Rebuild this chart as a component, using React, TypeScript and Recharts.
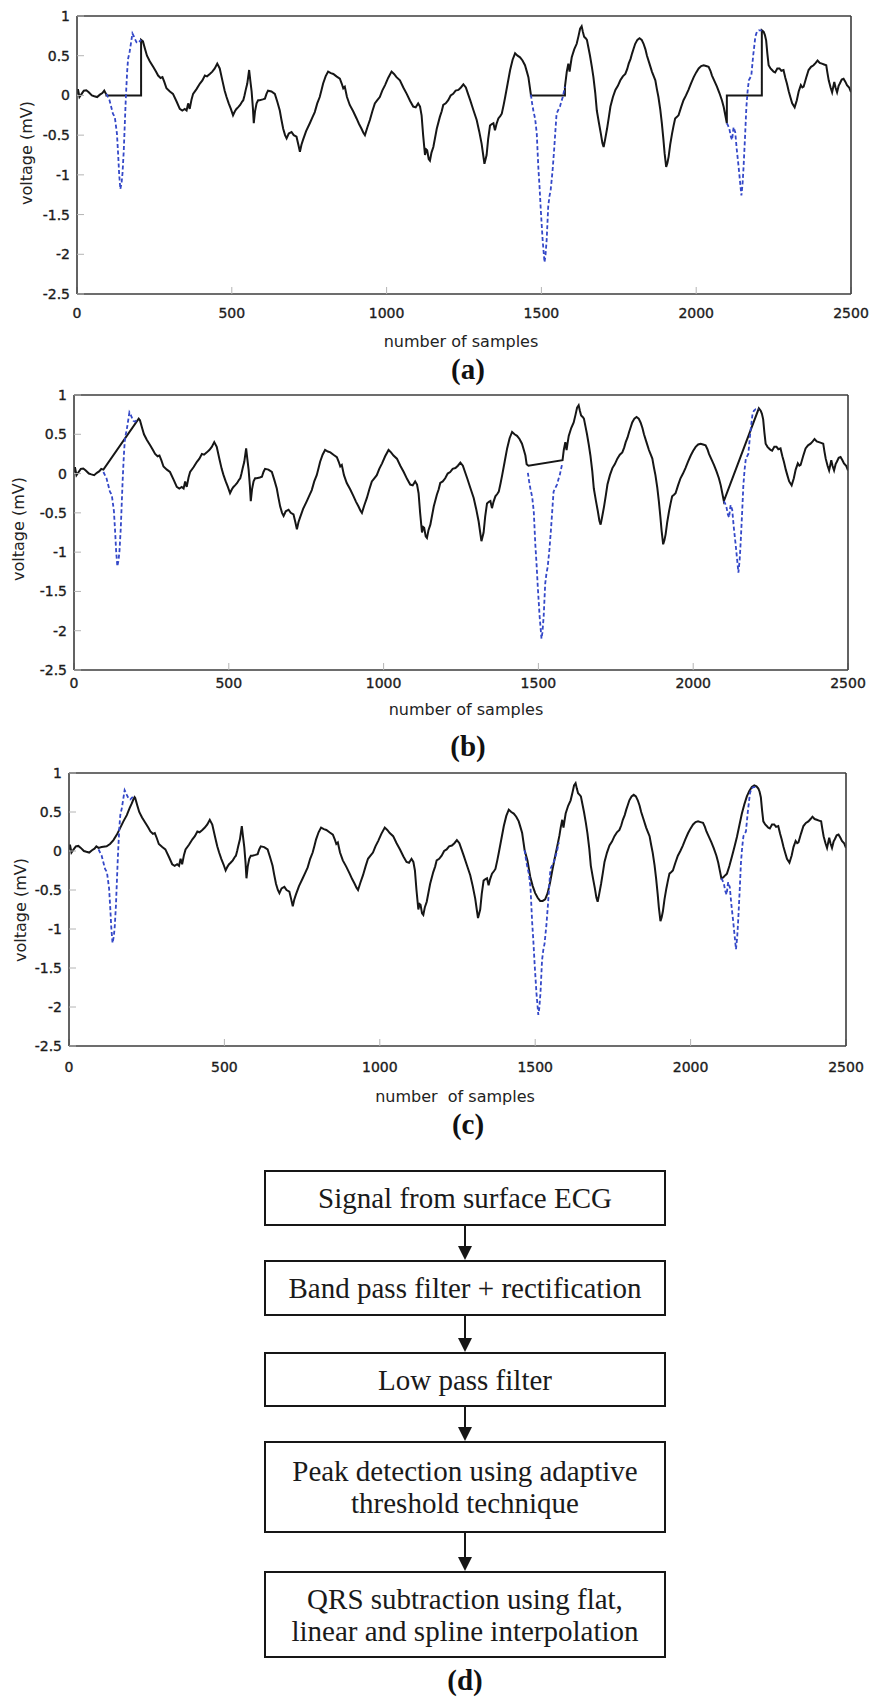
import { LineChart, Line, XAxis, YAxis } from 'recharts';

type Pt = [number, number];

// ─── axes ───
const X_TICKS = [0, 500, 1000, 1500, 2000, 2500];
const Y_TICKS = [-2.5, -2, -1.5, -1, -0.5, 0, 0.5, 1];

// ─── ECG trace outside the three QRS windows (sample, mV) ───
const ECG_START: Pt[] = [
  [0, 0.02], [3, 0.08], [8, -0.02], [15, 0.02], [22, 0.06], [30, 0.065], [38, 0.04],
  [48, 0.0], [56, -0.01], [65, -0.02], [74, 0.01], [82, 0.03], [88, 0.06],
];

const ECG_MID: Pt[] = [
  [213, 0.68], [220, 0.58], [226, 0.5], [235, 0.43], [246, 0.36], [255, 0.3], [262, 0.25],
  [270, 0.22], [276, 0.23], [282, 0.17], [289, 0.09], [300, 0.05], [310, 0.02], [322, -0.08],
  [332, -0.17], [340, -0.19], [348, -0.17], [354, -0.19], [359, -0.1], [364, -0.17], [370, -0.05],
  [375, 0.02], [386, 0.08], [397, 0.15], [405, 0.19], [413, 0.25], [420, 0.24], [429, 0.27],
  [437, 0.3], [445, 0.34], [453, 0.4], [461, 0.34], [470, 0.18], [477, 0.06], [483, -0.02],
  [490, -0.1], [497, -0.17], [504, -0.25], [510, -0.2], [515, -0.17], [520, -0.15], [527, -0.12],
  [533, -0.08], [537, -0.06], [541, 0.0], [545, 0.07], [550, 0.15], [556, 0.32], [560, 0.18],
  [564, 0.05], [568, -0.15], [571, -0.35], [575, -0.2], [580, -0.1], [585, -0.06], [590, -0.06],
  [600, -0.05], [607, -0.04], [612, 0.02], [617, 0.06], [628, 0.05], [639, 0.02], [647, -0.08],
  [655, -0.19], [660, -0.3], [666, -0.42], [672, -0.5], [677, -0.54], [684, -0.48], [693, -0.46],
  [700, -0.5], [709, -0.52], [715, -0.62], [720, -0.71], [725, -0.62], [730, -0.56], [740, -0.45],
  [752, -0.35], [760, -0.28], [768, -0.21], [776, -0.1], [784, -0.02], [790, 0.07], [795, 0.15],
  [803, 0.24], [811, 0.3], [820, 0.28], [828, 0.27], [838, 0.24], [849, 0.21], [855, 0.15],
  [860, 0.09], [865, 0.11], [872, -0.02], [881, -0.12], [892, -0.2], [903, -0.29], [911, -0.36],
  [919, -0.42], [925, -0.47], [930, -0.5], [938, -0.4], [946, -0.31], [954, -0.2], [962, -0.1],
  [970, -0.06], [978, -0.02], [986, 0.06], [995, 0.13], [1005, 0.22], [1016, 0.3], [1024, 0.27],
  [1032, 0.23], [1043, 0.19], [1054, 0.1], [1065, 0.02], [1076, -0.07], [1086, -0.14], [1094, -0.15],
  [1102, -0.1], [1108, -0.14], [1113, -0.25], [1118, -0.5], [1124, -0.75], [1128, -0.68], [1131, -0.69],
  [1136, -0.8], [1140, -0.82], [1145, -0.72], [1151, -0.65], [1162, -0.42], [1172, -0.27], [1178, -0.2],
  [1183, -0.12], [1191, -0.1], [1199, -0.06], [1207, 0.0], [1215, 0.02], [1223, 0.06], [1232, 0.07],
  [1240, 0.1], [1248, 0.14], [1256, 0.1], [1263, 0.02], [1270, -0.06], [1280, -0.18], [1291, -0.31],
  [1299, -0.45], [1307, -0.61], [1312, -0.75], [1316, -0.86], [1323, -0.75], [1328, -0.55], [1334, -0.38],
  [1340, -0.36], [1345, -0.35], [1350, -0.44], [1355, -0.36], [1361, -0.29], [1367, -0.26], [1372, -0.23],
  [1378, -0.12], [1383, -0.02], [1391, 0.15], [1399, 0.32], [1407, 0.45], [1415, 0.53], [1423, 0.5],
  [1431, 0.48], [1439, 0.44], [1447, 0.38], [1453, 0.3], [1458, 0.23], [1462, 0.12],
];

const ECG_LATE: Pt[] = [
  [1582, 0.3], [1587, 0.4], [1591, 0.3], [1594, 0.38], [1598, 0.48], [1606, 0.58], [1614, 0.65],
  [1620, 0.75], [1625, 0.84], [1630, 0.87], [1634, 0.8], [1638, 0.74], [1643, 0.72], [1647, 0.7],
  [1652, 0.6], [1657, 0.5], [1663, 0.36], [1668, 0.23], [1674, 0.03], [1679, -0.19], [1686, -0.35],
  [1692, -0.48], [1697, -0.6], [1701, -0.65], [1706, -0.55], [1712, -0.42], [1718, -0.27], [1723, -0.14],
  [1731, -0.02], [1739, 0.07], [1747, 0.12], [1755, 0.19], [1763, 0.24], [1771, 0.27], [1777, 0.33],
  [1782, 0.4], [1788, 0.46], [1793, 0.53], [1798, 0.59], [1803, 0.65], [1810, 0.7], [1817, 0.72],
  [1824, 0.7], [1830, 0.65], [1836, 0.58], [1841, 0.5], [1849, 0.4], [1857, 0.3], [1863, 0.24],
  [1868, 0.19], [1873, 0.08], [1878, -0.02], [1884, -0.18], [1889, -0.35], [1894, -0.55], [1898, -0.73],
  [1903, -0.9], [1907, -0.85], [1911, -0.77], [1916, -0.62], [1922, -0.48], [1927, -0.38], [1932, -0.29],
  [1938, -0.27], [1943, -0.25], [1951, -0.15], [1959, -0.06], [1967, 0.0], [1975, 0.07], [1983, 0.15],
  [1992, 0.23], [2000, 0.29], [2008, 0.34], [2016, 0.37], [2024, 0.38], [2032, 0.37], [2040, 0.36],
  [2046, 0.31], [2051, 0.25], [2059, 0.18], [2067, 0.11], [2075, 0.03], [2083, -0.06], [2089, -0.15],
  [2094, -0.25],
];

const ECG_END: Pt[] = [
  [2218, 0.8], [2222, 0.76], [2226, 0.69], [2230, 0.52], [2234, 0.38], [2240, 0.34], [2245, 0.32],
  [2250, 0.3], [2255, 0.29], [2262, 0.34], [2269, 0.34], [2275, 0.31], [2282, 0.32], [2288, 0.22],
  [2293, 0.15], [2299, 0.05], [2304, -0.02], [2310, -0.1], [2318, -0.15], [2325, -0.06], [2331, 0.05],
  [2338, 0.13], [2343, 0.1], [2347, 0.11], [2355, 0.22], [2363, 0.32], [2371, 0.36], [2379, 0.38],
  [2386, 0.41], [2392, 0.44], [2399, 0.41], [2406, 0.4], [2413, 0.39], [2420, 0.38], [2424, 0.28],
  [2428, 0.19], [2434, 0.1], [2439, 0.04], [2446, 0.17], [2450, 0.1], [2455, 0.04], [2460, 0.12],
  [2464, 0.15], [2470, 0.2], [2476, 0.21], [2482, 0.17], [2487, 0.13], [2494, 0.1], [2500, 0.04],
];

// ─── original QRS complexes (blue dashed) ───
const QRS_1: Pt[] = [
  [95, 0.02], [105, -0.06], [116, -0.23], [122, -0.27], [129, -0.48], [133, -0.75], [136, -0.98],
  [140, -1.18], [144, -1.1], [147, -0.98], [151, -0.7], [154, -0.4], [157, -0.1], [159, 0.07],
  [162, 0.3], [165, 0.46], [170, 0.55], [174, 0.65], [179, 0.78], [183, 0.75], [186, 0.72],
  [192, 0.67], [197, 0.66], [202, 0.68], [207, 0.7],
];
const QRS_2: Pt[] = [
  [1466, 0.01], [1470, -0.1], [1474, -0.19], [1480, -0.3], [1485, -0.48], [1490, -0.9], [1494, -1.15],
  [1498, -1.44], [1504, -1.82], [1510, -2.1], [1513, -2.02], [1517, -1.82], [1522, -1.4], [1526, -1.27],
  [1530, -1.19], [1536, -0.95], [1541, -0.69], [1546, -0.4], [1549, -0.23], [1555, -0.18], [1560, -0.14],
  [1565, -0.07], [1569, -0.02], [1576, 0.11],
];
const QRS_3: Pt[] = [
  [2099, -0.35], [2103, -0.38], [2107, -0.42], [2112, -0.52], [2116, -0.56], [2119, -0.45], [2121, -0.4],
  [2124, -0.44], [2126, -0.46], [2131, -0.68], [2137, -0.9], [2142, -1.1], [2146, -1.26], [2150, -1.1],
  [2153, -0.9], [2158, -0.5], [2162, -0.15], [2166, 0.05], [2170, 0.19], [2178, 0.25], [2184, 0.5],
  [2191, 0.74], [2196, 0.8], [2202, 0.82], [2207, 0.82], [2212, 0.82],
];

// ─── (a) flat replacement ───
const FLAT_1: Pt[] = [[95, 0.01], [95, 0], [207, 0], [207, 0.7]];
const FLAT_2: Pt[] = [[1466, 0.01], [1466, 0], [1576, 0], [1576, 0.11]];
const FLAT_3: Pt[] = [[2099, -0.35], [2099, 0], [2212, 0], [2212, 0.82]];

// ─── (b) linear replacement ───
const LINEAR_1: Pt[] = [[95, 0.05], [209, 0.7]];
const LINEAR_2: Pt[] = [[1468, 0.1], [1578, 0.17]];
const LINEAR_3: Pt[] = [[2099, -0.35], [2212, 0.83]];

// ─── (c) spline replacement ───
const SPLINE_1: Pt[] = [
  [95, 0.04], [105, 0.05], [121, 0.06], [132, 0.09], [143, 0.14], [154, 0.21], [164, 0.29],
  [175, 0.38], [186, 0.46], [195, 0.55], [202, 0.61], [207, 0.66], [211, 0.69],
];
const SPLINE_2: Pt[] = [
  [1466, 0.01], [1475, -0.12], [1484, -0.33], [1492, -0.45], [1500, -0.54], [1508, -0.6], [1516, -0.64],
  [1524, -0.64], [1532, -0.62], [1540, -0.54], [1548, -0.4], [1556, -0.23], [1564, -0.07], [1572, 0.08],
  [1578, 0.2],
];
const SPLINE_3: Pt[] = [
  [2099, -0.35], [2105, -0.34], [2112, -0.31], [2117, -0.29], [2125, -0.19], [2133, -0.07], [2141, 0.05],
  [2149, 0.18], [2157, 0.33], [2165, 0.48], [2173, 0.6], [2181, 0.7], [2189, 0.77], [2197, 0.82],
  [2205, 0.84], [2212, 0.83],
];

const FLOW_STEPS = [
  ['Signal from surface ECG'],
  ['Band pass filter + rectification'],
  ['Low pass filter'],
  ['Peak detection using adaptive', 'threshold technique'],
  ['QRS subtraction using flat,', 'linear and spline interpolation'],
];

const FRAME = '#3c3c3c';
const TICK = '#b4b4b4';
const TRACE = '#161616';
const QRS_BLUE = '#3448c8';
const SANS = '"DejaVu Sans", Verdana, sans-serif';
const SERIF = '"Liberation Serif", "Times New Roman", serif';

function rows(points: Pt[]) {
  return points.map(([s, v]) => ({ s, v }));
}

function trace(windows: Pt[][]) {
  return rows([
    ...ECG_START, ...windows[0], ...ECG_MID, ...windows[1], ...ECG_LATE, ...windows[2], ...ECG_END,
  ]);
}

type Plot = { left: number; top: number; right: number; bottom: number };

type PanelProps = {
  top: number;
  plot: Plot;
  windows: Pt[][];
  labelGap: number;
  xTitle: string;
  xTitleAt: [number, number];
  yTitleAt: [number, number];
  caption: string;
  captionAt: [number, number];
};

function Centered({ x, y, style, children }: { x: number; y: number; style: any; children: any }) {
  return (
    <div
      style={{
        position: 'absolute', left: x, top: y, whiteSpace: 'pre', lineHeight: 1,
        transform: 'translate(-50%, -50%)', ...style,
      }}
    >
      {children}
    </div>
  );
}

function EcgPanel({ top, plot, windows, labelGap, xTitle, xTitleAt, yTitleAt, caption, captionAt }: PanelProps) {
  const height = 360;
  // every axis is 1px thick, so the plot box lands exactly on `plot`
  const margin = {
    top: plot.top - top - 1,
    left: plot.left - 1,
    right: 869 - plot.right - 1,
    bottom: top + height - plot.bottom - 1,
  };
  const black = trace(windows);
  const tickText = { fontFamily: SANS, fontSize: 14, fill: '#1c1c1c', stroke: '#1c1c1c', strokeWidth: 0.35 };
  const frame = { stroke: FRAME, strokeWidth: 1.6 };
  const inward = { stroke: TICK, strokeWidth: 1 };

  return (
    <>
      <div style={{ position: 'absolute', left: 0, top, width: 869, height }}>
        <LineChart width={869} height={height} margin={margin}>
          <XAxis
            dataKey="s" type="number" domain={[0, 2500]} ticks={X_TICKS} interval={0} allowDataOverflow
            height={1} axisLine={frame} tickLine={inward} tickSize={-7} tickMargin={7 + labelGap}
            tick={tickText}
          />
          <XAxis
            xAxisId="top" orientation="top" dataKey="s" type="number" domain={[0, 2500]}
            ticks={X_TICKS} interval={0} allowDataOverflow height={1} axisLine={frame}
            tickLine={inward} tickSize={-7} tick={false}
          />
          <YAxis
            type="number" domain={[-2.5, 1]} ticks={Y_TICKS} interval={0} allowDataOverflow width={1}
            axisLine={frame} tickLine={inward} tickSize={-7} tickMargin={14} tick={tickText}
          />
          <YAxis
            yAxisId="right" orientation="right" type="number" domain={[-2.5, 1]} ticks={Y_TICKS}
            interval={0} allowDataOverflow width={1} axisLine={frame} tickLine={inward}
            tickSize={-7} tick={false}
          />
          <Line
            xAxisId="top" yAxisId="right" data={black} dataKey="v" stroke="none" dot={false}
            activeDot={false} isAnimationActive={false}
          />
          <Line
            data={black} dataKey="v" type="linear" stroke={TRACE} strokeWidth={2} dot={false}
            activeDot={false} isAnimationActive={false}
          />
          {[QRS_1, QRS_2, QRS_3].map((q, i) => (
            <Line
              key={i} data={rows(q)} dataKey="v" type="linear" stroke={QRS_BLUE} strokeWidth={1.8}
              strokeDasharray="4 2.5" dot={false} activeDot={false} isAnimationActive={false}
            />
          ))}
        </LineChart>
      </div>
      <Centered x={xTitleAt[0]} y={xTitleAt[1]} style={{ fontFamily: SANS, fontSize: 16, color: '#222' }}>
        {xTitle}
      </Centered>
      <Centered
        x={yTitleAt[0]} y={yTitleAt[1]}
        style={{ fontFamily: SANS, fontSize: 16, color: '#222', transform: 'translate(-50%, -50%) rotate(-90deg)' }}
      >
        voltage (mV)
      </Centered>
      <Centered x={captionAt[0]} y={captionAt[1]} style={{ fontFamily: SERIF, fontSize: 29, fontWeight: 700, color: '#111' }}>
        {caption}
      </Centered>
    </>
  );
}

function FlowChart() {
  const left = 264;
  const width = 402;
  const tops = [1170, 1260, 1352, 1441, 1571];
  const heights = [56, 56, 55, 92, 87];
  const cx = left + width / 2;

  return (
    <>
      {FLOW_STEPS.map((lines, i) => (
        <div
          key={i}
          style={{
            position: 'absolute', left, top: tops[i], width, height: heights[i], boxSizing: 'border-box',
            border: '2px solid #161616', display: 'flex', flexDirection: 'column', alignItems: 'center',
            justifyContent: 'center', fontFamily: SERIF, fontSize: 29, lineHeight: '32px', color: '#1a1a1a',
          }}
        >
          {lines.map((t) => (
            <div key={t}>{t}</div>
          ))}
        </div>
      ))}
      {tops.slice(1).map((t, i) => {
        const y0 = tops[i] + heights[i];
        const gap = t - y0;
        return (
          <svg key={i} width={20} height={gap} style={{ position: 'absolute', left: cx - 10, top: y0 }}>
            <line x1={10} y1={0} x2={10} y2={gap - 12} stroke="#161616" strokeWidth={2} />
            <polygon points={`3,${gap - 14} 17,${gap - 14} 10,${gap}`} fill="#161616" />
          </svg>
        );
      })}
      <Centered x={cx} y={1680} style={{ fontFamily: SERIF, fontSize: 29, fontWeight: 700, color: '#111' }}>
        (d)
      </Centered>
    </>
  );
}

export default function App() {
  return (
    <div style={{ position: 'absolute', left: 0, top: 0, width: 869, height: 1698, background: '#fff', overflow: 'hidden' }}>
      <EcgPanel
        top={0}
        plot={{ left: 77, top: 16, right: 851, bottom: 294 }}
        windows={[FLAT_1, FLAT_2, FLAT_3]}
        labelGap={14}
        xTitle="number of samples"
        xTitleAt={[461, 342]}
        yTitleAt={[27, 153]}
        caption="(a)"
        captionAt={[468, 369]}
      />
      <EcgPanel
        top={380}
        plot={{ left: 74, top: 395, right: 848, bottom: 670 }}
        windows={[LINEAR_1, LINEAR_2, LINEAR_3]}
        labelGap={8}
        xTitle="number of samples"
        xTitleAt={[466, 710]}
        yTitleAt={[19, 529]}
        caption="(b)"
        captionAt={[468, 746]}
      />
      <EcgPanel
        top={760}
        plot={{ left: 69, top: 773, right: 846, bottom: 1046 }}
        windows={[SPLINE_1, SPLINE_2, SPLINE_3]}
        labelGap={16}
        xTitle="number  of samples"
        xTitleAt={[455, 1097]}
        yTitleAt={[21, 910]}
        caption="(c)"
        captionAt={[468, 1124]}
      />
      <FlowChart />
    </div>
  );
}
